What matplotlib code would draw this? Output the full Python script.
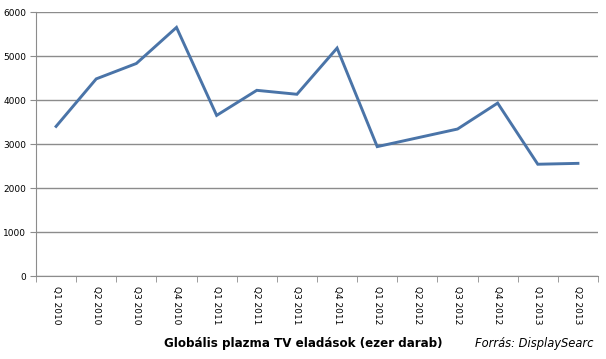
import matplotlib as mpl
mpl.use('Agg')
import matplotlib.pyplot as plt

quarters = ['Q1 2010', 'Q2 2010', 'Q3 2010', 'Q4 2010',
            'Q1 2011', 'Q2 2011', 'Q3 2011', 'Q4 2011',
            'Q1 2012', 'Q2 2012', 'Q3 2012', 'Q4 2012',
            'Q1 2013', 'Q2 2013']
sales = [3400, 4480, 4830, 5650, 3650, 4220, 4130, 5180,
         2940, 3140, 3340, 3930, 2540, 2560]
yticks = [0, 1000, 2000, 3000, 4000, 5000, 6000]

fig = plt.figure(figsize=(6.06, 3.59), dpi=100)
ax = fig.add_axes([36/606, 1 - 276/359, 562/606, 264/359])

x = list(range(len(quarters)))
ax.plot(x, sales, color='#4a74a8', lw=2.1, solid_joinstyle='miter')

ax.set_xlim(-0.5, len(quarters) - 0.5)
ax.set_ylim(0, 6000)
ax.set_yticks(yticks)
ax.set_yticklabels([str(v) for v in yticks], fontsize=6.5)
ax.yaxis.grid(True, color='#8c8c8c', lw=1)
ax.set_axisbelow(True)

ax.set_xticks(x)
ax.set_xticklabels(quarters, rotation=270, fontsize=6.5, va='top', ha='center')
ax.set_xticks([i - 0.5 for i in range(len(quarters) + 1)], minor=True)
ax.tick_params(axis='x', which='major', length=0, pad=7)
ax.tick_params(axis='x', which='minor', length=4, color='#8c8c8c')
ax.tick_params(axis='y', length=4, color='#8c8c8c', pad=3)

for s in ['top', 'right']:
    ax.spines[s].set_visible(False)
ax.spines['left'].set_color('#8c8c8c')
ax.spines['bottom'].set_color('#8c8c8c')

fig.text(303/606, 1 - 343/359, 'Globális plazma TV eladások (ezer darab)',
         ha='center', va='center', fontsize=8.6, fontweight='bold')
fig.text(475/606, 1 - 343/359, 'Forrás: DisplaySearc',
         ha='left', va='center', fontsize=8.3, style='italic')

fig.savefig('out.png', dpi=100)
